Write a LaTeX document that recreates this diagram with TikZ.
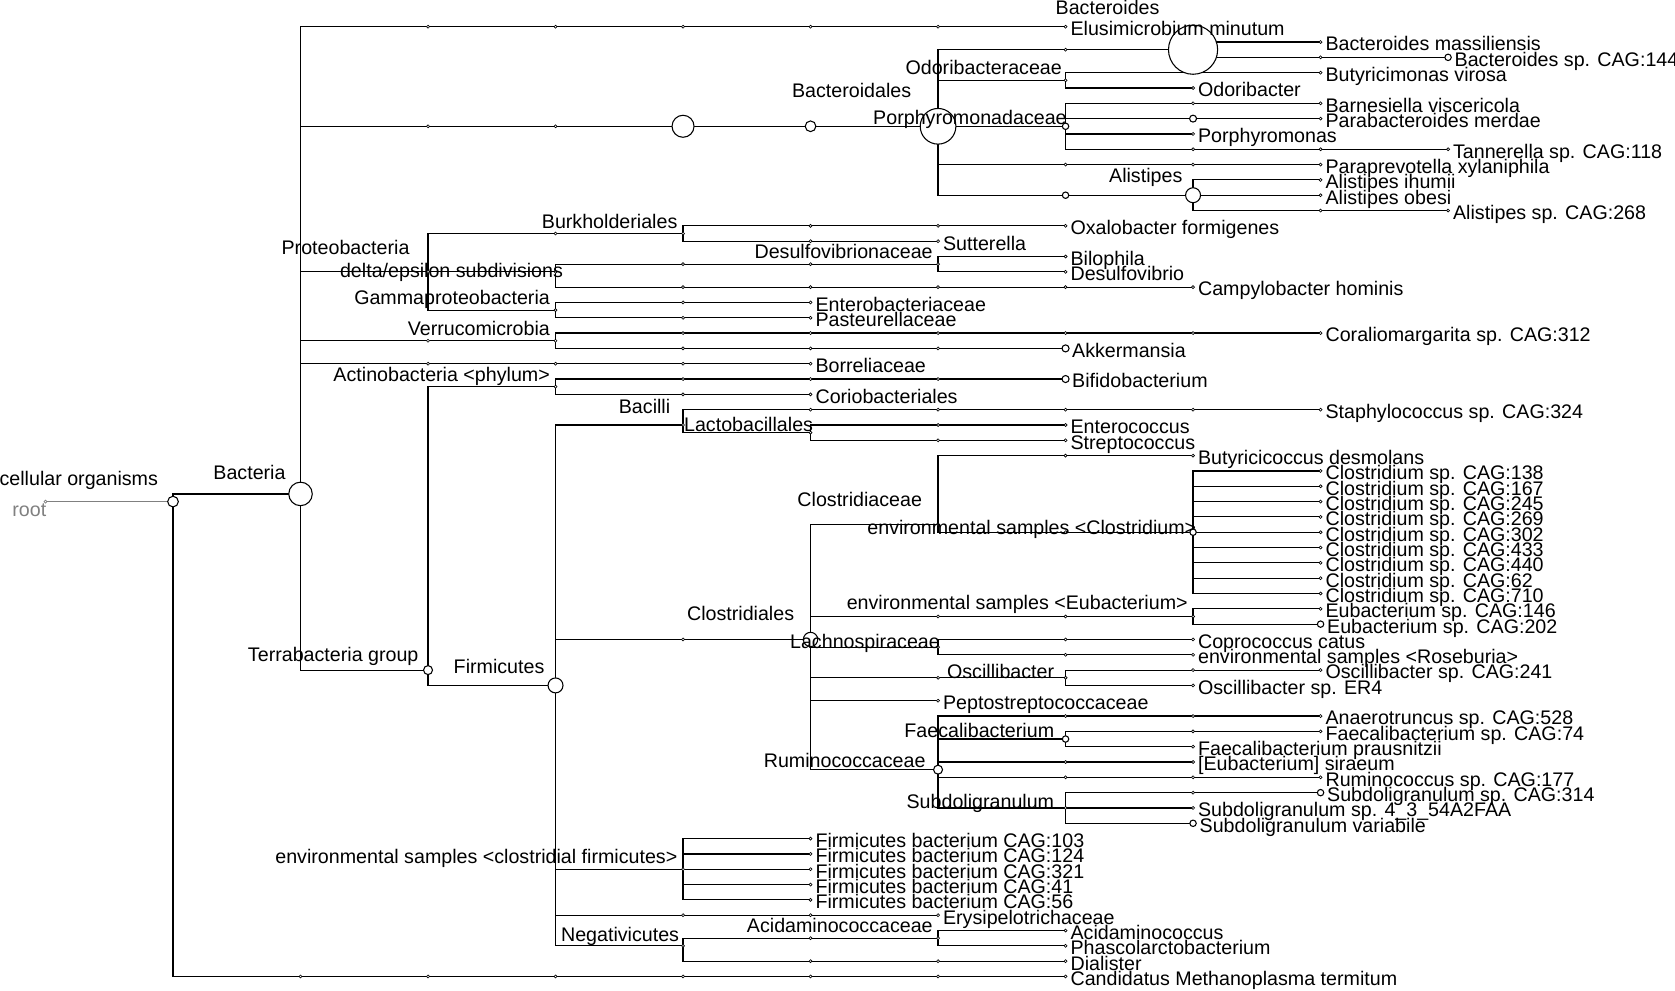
\documentclass[tikz,border=0pt]{standalone}
\usepackage{fontspec}
\setmainfont{Liberation Sans}
\begin{document}
\begin{tikzpicture}[x=1pt,y=-1pt,font=\fontsize{18.4pt}{20pt}\selectfont,
 edge/.style={line width=1.1pt},
 dotm/.style={circle,draw,fill=white,inner sep=0pt,minimum size=2.8pt,line width=0.6pt},
 circm/.style={circle,draw,fill=white,inner sep=0pt,line width=1pt,minimum size=#1},
 leaflab/.style={anchor=base west,inner sep=0pt,xshift=4.5pt,yshift=-8.3pt},
 cleaflab/.style={anchor=base west,inner sep=0pt,xshift=6pt,yshift=-8.3pt},
 intlab/.style={anchor=base east,inner sep=0pt}]
\useasboundingbox (0,0) rectangle (1568,927);
% ---------- coordinates ----------
\coordinate (rootg) at (42.6,469.54);
\coordinate (cell) at (161.96,469.54);
\coordinate (bac) at (281.32,462.37);
% Elusimicrobium
\coordinate (e3) at (400.68,25); \coordinate (e4) at (520.04,25); \coordinate (e5) at (639.40,25);
\coordinate (e6) at (758.76,25); \coordinate (e7) at (878.12,25); \coordinate (L1) at (997.48,25);
% Bacteroidetes
\coordinate (b3) at (400.68,118.21); \coordinate (b4) at (520.04,118.21); \coordinate (b5) at (639.40,118.21);
\coordinate (b6) at (758.76,118.21); \coordinate (bdl) at (878.12,118.21);
\coordinate (bd8) at (997.48,46.51); \coordinate (bds) at (1116.84,46.51);
\coordinate (L2) at (1236.20,39.34);
\coordinate (L3a) at (1236.20,53.68); \coordinate (L3) at (1355.56,53.68);
\coordinate (odo) at (997.48,75.19);
\coordinate (L4a) at (1116.84,68.02); \coordinate (L4) at (1236.20,68.02);
\coordinate (L5) at (1116.84,82.36);
\coordinate (por) at (997.48,118.21);
\coordinate (L6a) at (1116.84,96.70); \coordinate (L6) at (1236.20,96.70);
\coordinate (pab) at (1116.84,111.04); \coordinate (L7) at (1236.20,111.04);
\coordinate (L8) at (1116.84,125.38);
\coordinate (L9a) at (1116.84,139.72); \coordinate (L9b) at (1236.20,139.72); \coordinate (L9) at (1355.56,139.72);
\coordinate (L10a) at (997.48,154.06); \coordinate (L10b) at (1116.84,154.06); \coordinate (L10) at (1236.20,154.06);
\coordinate (rik) at (997.48,182.74); \coordinate (ali) at (1116.84,182.74);
\coordinate (L11) at (1236.20,168.40); \coordinate (L12) at (1236.20,182.74);
\coordinate (L13a) at (1236.20,197.08); \coordinate (L13) at (1355.56,197.08);
% Proteobacteria
\coordinate (pro) at (400.68,254.44);
\coordinate (bu4) at (520.04,218.59); \coordinate (bur) at (639.40,218.59);
\coordinate (L14a) at (758.76,211.42); \coordinate (L14b) at (878.12,211.42); \coordinate (L14) at (997.48,211.42);
\coordinate (L15a) at (758.76,225.76); \coordinate (L15) at (878.12,225.76);
\coordinate (del) at (520.04,254.44);
\coordinate (ds5) at (639.40,247.27); \coordinate (ds6) at (758.76,247.27); \coordinate (des) at (878.12,247.27);
\coordinate (L16) at (997.48,240.10); \coordinate (L17) at (997.48,254.44);
\coordinate (L18a) at (639.40,268.78); \coordinate (L18b) at (758.76,268.78); \coordinate (L18c) at (878.12,268.78);
\coordinate (L18d) at (997.48,268.78); \coordinate (L18) at (1116.84,268.78);
\coordinate (gam) at (520.04,290.29);
\coordinate (L19a) at (639.40,283.12); \coordinate (L19) at (758.76,283.12);
\coordinate (L20a) at (639.40,297.46); \coordinate (L20) at (758.76,297.46);
% Verrucomicrobia
\coordinate (ve3) at (400.68,318.97); \coordinate (ver) at (520.04,318.97);
\coordinate (L21a) at (639.40,311.80); \coordinate (L21b) at (758.76,311.80); \coordinate (L21c) at (878.12,311.80);
\coordinate (L21d) at (997.48,311.80); \coordinate (L21e) at (1116.84,311.80); \coordinate (L21) at (1236.20,311.80);
\coordinate (L22a) at (639.40,326.14); \coordinate (L22b) at (758.76,326.14); \coordinate (L22c) at (878.12,326.14);
\coordinate (L22) at (997.48,326.14);
% Spirochaetes
\coordinate (L23a) at (400.68,340.48); \coordinate (L23b) at (520.04,340.48); \coordinate (L23c) at (639.40,340.48);
\coordinate (L23) at (758.76,340.48);
% Terrabacteria
\coordinate (ter) at (400.68,627.28);
\coordinate (act) at (520.04,361.99);
\coordinate (L24a) at (639.40,354.82); \coordinate (L24b) at (758.76,354.82); \coordinate (L24c) at (878.12,354.82);
\coordinate (L24) at (997.48,354.82);
\coordinate (L25a) at (639.40,369.16); \coordinate (L25) at (758.76,369.16);
\coordinate (fir) at (520.04,641.62);
\coordinate (bcl) at (639.40,397.84);
\coordinate (L26a) at (758.76,383.50); \coordinate (L26b) at (878.12,383.50); \coordinate (L26c) at (997.48,383.50);
\coordinate (L26d) at (1116.84,383.50); \coordinate (L26) at (1236.20,383.50);
\coordinate (lac) at (758.76,405.01);
\coordinate (L27a) at (878.12,397.84); \coordinate (L27) at (997.48,397.84);
\coordinate (L28a) at (878.12,412.18); \coordinate (L28) at (997.48,412.18);
% Clostridia
\coordinate (cla) at (639.40,598.60); \coordinate (clo) at (758.76,598.60);
\coordinate (cde) at (878.12,491.05);
\coordinate (L29a) at (997.48,426.52); \coordinate (L29) at (1116.84,426.52);
\coordinate (ec8) at (997.48,498.22); \coordinate (ecl) at (1116.84,498.22);
\coordinate (L30) at (1236.20,440.86); \coordinate (L31) at (1236.20,455.20); \coordinate (L32) at (1236.20,469.54);
\coordinate (L33) at (1236.20,483.88); \coordinate (L34) at (1236.20,498.22); \coordinate (L35) at (1236.20,512.56);
\coordinate (L36) at (1236.20,526.90); \coordinate (L37) at (1236.20,541.24); \coordinate (L38) at (1236.20,555.58);
\coordinate (eu7) at (878.12,577.09); \coordinate (eu8) at (997.48,577.09); \coordinate (eeu) at (1116.84,577.09);
\coordinate (L39) at (1236.20,569.92); \coordinate (L40) at (1236.20,584.26);
\coordinate (lch) at (878.12,605.77);
\coordinate (L41a) at (997.48,598.60); \coordinate (L41) at (1116.84,598.60);
\coordinate (L42a) at (997.48,612.94); \coordinate (L42) at (1116.84,612.94);
\coordinate (os7) at (878.12,634.45); \coordinate (osc) at (997.48,634.45);
\coordinate (L43a) at (1116.84,627.28); \coordinate (L43) at (1236.20,627.28);
\coordinate (L44) at (1116.84,641.62);
\coordinate (L45) at (878.12,655.96);
\coordinate (rum) at (878.12,720.49);
\coordinate (L46a) at (997.48,670.30); \coordinate (L46b) at (1116.84,670.30); \coordinate (L46) at (1236.20,670.30);
\coordinate (fae) at (997.48,691.81);
\coordinate (L47a) at (1116.84,684.64); \coordinate (L47) at (1236.20,684.64);
\coordinate (L48) at (1116.84,698.98);
\coordinate (L49a) at (997.48,713.32); \coordinate (L49) at (1116.84,713.32);
\coordinate (L50a) at (997.48,727.66); \coordinate (L50b) at (1116.84,727.66); \coordinate (L50) at (1236.20,727.66);
\coordinate (sub) at (997.48,756.34);
\coordinate (L51a) at (1116.84,742.00); \coordinate (L51) at (1236.20,742.00);
\coordinate (L52) at (1116.84,756.34);
\coordinate (L53) at (1116.84,770.68);
\coordinate (ecf) at (639.40,813.70);
\coordinate (L54) at (758.76,785.02); \coordinate (L55) at (758.76,799.36); \coordinate (L56) at (758.76,813.70);
\coordinate (L57) at (758.76,828.04); \coordinate (L58) at (758.76,842.38);
\coordinate (L59a) at (639.40,856.72); \coordinate (L59b) at (758.76,856.72); \coordinate (L59) at (878.12,856.72);
\coordinate (neg) at (639.40,885.40);
\coordinate (ac6) at (758.76,878.23); \coordinate (aci) at (878.12,878.23);
\coordinate (L60) at (997.48,871.06); \coordinate (L61) at (997.48,885.40);
\coordinate (L62a) at (758.76,899.74); \coordinate (L62b) at (878.12,899.74); \coordinate (L62) at (997.48,899.74);
\coordinate (L63a) at (281.32,914.08); \coordinate (L63b) at (400.68,914.08); \coordinate (L63c) at (520.04,914.08);
\coordinate (L63d) at (639.40,914.08); \coordinate (L63e) at (758.76,914.08); \coordinate (L63f) at (878.12,914.08);
\coordinate (L63) at (997.48,914.08);
% ---------- edges ----------
\draw[gray,line width=1.1pt] (rootg) -- (cell);
\draw[edge]
 (cell) |- (bac) (cell) |- (L63a)
 (L63a) -- (L63b) -- (L63c) -- (L63d) -- (L63e) -- (L63f) -- (L63)
 (bac) |- (e3) (bac) |- (b3) (bac) |- (pro) (bac) |- (ve3) (bac) |- (L23a) (bac) |- (ter)
 (e3) -- (e4) -- (e5) -- (e6) -- (e7) -- (L1)
 (b3) -- (b4) -- (b5) -- (b6) -- (bdl)
 (bdl) |- (bd8) (bdl) |- (odo) (bdl) |- (por) (bdl) |- (L10a) (bdl) |- (rik)
 (bd8) -- (bds) (bds) |- (L2) (bds) |- (L3a) (L3a) -- (L3)
 (odo) |- (L4a) (odo) |- (L5) (L4a) -- (L4)
 (por) |- (L6a) (por) |- (pab) (por) |- (L8) (por) |- (L9a)
 (L6a) -- (L6) (pab) -- (L7) (L9a) -- (L9b) -- (L9)
 (L10a) -- (L10b) -- (L10)
 (rik) -- (ali) (ali) |- (L11) (ali) |- (L12) (ali) |- (L13a) (L13a) -- (L13)
 (pro) |- (bu4) (pro) |- (del) (pro) |- (gam)
 (bu4) -- (bur) (bur) |- (L14a) (bur) |- (L15a)
 (L14a) -- (L14b) -- (L14) (L15a) -- (L15)
 (del) |- (ds5) (del) |- (L18a)
 (ds5) -- (ds6) -- (des) (des) |- (L16) (des) |- (L17)
 (L18a) -- (L18b) -- (L18c) -- (L18d) -- (L18)
 (gam) |- (L19a) (gam) |- (L20a) (L19a) -- (L19) (L20a) -- (L20)
 (ve3) -- (ver) (ver) |- (L21a) (ver) |- (L22a)
 (L21a) -- (L21b) -- (L21c) -- (L21d) -- (L21e) -- (L21)
 (L22a) -- (L22b) -- (L22c) -- (L22)
 (L23a) -- (L23b) -- (L23c) -- (L23)
 (ter) |- (act) (ter) |- (fir)
 (act) |- (L24a) (act) |- (L25a)
 (L24a) -- (L24b) -- (L24c) -- (L24) (L25a) -- (L25)
 (fir) |- (bcl) (fir) |- (cla) (fir) |- (ecf) (fir) |- (L59a) (fir) |- (neg)
 (bcl) |- (L26a) (bcl) |- (lac)
 (L26a) -- (L26b) -- (L26c) -- (L26d) -- (L26)
 (lac) |- (L27a) (lac) |- (L28a) (L27a) -- (L27) (L28a) -- (L28)
 (cla) -- (clo)
 (clo) |- (cde) (clo) |- (eu7) (clo) |- (lch) (clo) |- (os7) (clo) |- (L45) (clo) |- (rum)
 (cde) |- (L29a) (cde) |- (ec8) (L29a) -- (L29) (ec8) -- (ecl)
 (ecl) |- (L30) (ecl) |- (L31) (ecl) |- (L32) (ecl) |- (L33) (ecl) |- (L34)
 (ecl) |- (L35) (ecl) |- (L36) (ecl) |- (L37) (ecl) |- (L38)
 (eu7) -- (eu8) -- (eeu) (eeu) |- (L39) (eeu) |- (L40)
 (lch) |- (L41a) (lch) |- (L42a) (L41a) -- (L41) (L42a) -- (L42)
 (os7) -- (osc) (osc) |- (L43a) (osc) |- (L44) (L43a) -- (L43)
 (rum) |- (L46a) (rum) |- (fae) (rum) |- (L49a) (rum) |- (L50a) (rum) |- (sub)
 (L46a) -- (L46b) -- (L46)
 (fae) |- (L47a) (fae) |- (L48) (L47a) -- (L47)
 (L49a) -- (L49) (L50a) -- (L50b) -- (L50)
 (sub) |- (L51a) (sub) |- (L52) (sub) |- (L53) (L51a) -- (L51)
 (ecf) |- (L54) (ecf) |- (L55) (ecf) |- (L56) (ecf) |- (L57) (ecf) |- (L58)
 (L59a) -- (L59b) -- (L59)
 (neg) |- (ac6) (neg) |- (L62a) (ac6) -- (aci) (aci) |- (L60) (aci) |- (L61)
 (L62a) -- (L62b) -- (L62);
% ---------- small dots ----------
\node[dotm,draw=gray] (d-rootg) at (rootg) {};
\foreach \n in {e3,e4,e5,e6,e7,L1,b3,b4,bd8,L2,L3a,odo,L4a,L4,L5,L6a,L6,L7,L8,L9a,L9b,L9,
 L10a,L10b,L10,L11,L12,L13a,L13,pro,bu4,bur,L14a,L14b,L14,L15a,L15,del,ds5,ds6,des,L16,L17,
 L18a,L18b,L18c,L18d,L18,gam,L19a,L19,L20a,L20,ve3,ver,L21a,L21b,L21c,L21d,L21e,L21,L22a,L22b,L22c,
 L23a,L23b,L23c,L23,act,L24a,L24b,L24c,L25a,L25,bcl,L26a,L26b,L26c,L26d,L26,lac,L27a,L27,L28a,L28,
 cla,cde,L29a,L29,ec8,L30,L31,L32,L33,L34,L35,L36,L37,L38,eu7,eu8,eeu,L39,lch,L41a,L41,L42a,L42,
 os7,osc,L43a,L43,L44,L45,L46a,L46b,L46,L47a,L47,L48,L49a,L49,L50a,L50b,L50,sub,L51a,L52,
 ecf,L54,L55,L56,L57,L58,L59a,L59b,L59,neg,ac6,aci,L60,L61,L62a,L62b,L62,
 L63a,L63b,L63c,L63d,L63e,L63f,L63}
 {\node[dotm] (d-\n) at (\n) {};}
% ---------- circles ----------
\node[circm=10pt] (m-cell) at (cell) {};
\node[circm=22pt] (m-bac) at (bac) {};
\node[circm=20.6pt] (m-b5) at (b5) {};
\node[circm=10pt] (m-b6) at (b6) {};
\node[circm=33.4pt] (m-bdl) at (bdl) {};
\node[circm=46pt] (m-bds) at (bds) {};
\node[circm=6pt] (m-por) at (por) {};
\node[circm=6.5pt] (m-pab) at (pab) {};
\node[circm=6pt] (m-rik) at (rik) {};
\node[circm=14pt] (m-ali) at (ali) {};
\node[circm=6pt] (m-L3) at (L3) {};
\node[circm=6.6pt] (m-L22) at (L22) {};
\node[circm=6.6pt] (m-L24) at (L24) {};
\node[circm=8.4pt] (m-ter) at (ter) {};
\node[circm=14pt] (m-fir) at (fir) {};
\node[circm=13.4pt] (m-clo) at (clo) {};
\node[circm=6pt] (m-ecl) at (ecl) {};
\node[circm=6pt] (m-L40) at (L40) {};
\node[circm=8.4pt] (m-rum) at (rum) {};
\node[circm=6pt] (m-fae) at (fae) {};
\node[circm=6pt] (m-L51) at (L51) {};
\node[circm=6pt] (m-L53) at (L53) {};
% ---------- internal labels ----------
\node[intlab,text=gray] (t-root) at (43.5,483.7) {root};
\node[intlab] (t-cell) at (148.1,454.7) {cellular organisms};
\node[intlab] (t-bac) at (267.5,448.7) {Bacteria};
\node[intlab] (t-bds) at (1085.6,14) {Bacteroides};
\node[intlab] (t-odo) at (994.2,70.2) {Odoribacteraceae};
\node[intlab] (t-bdl) at (853.2,91.1) {Bacteroidales};
\node[intlab] (t-por) at (998.7,117) {Porphyromonadaceae};
\node[intlab] (t-ali) at (1107,171) {Alistipes};
\node[intlab] (t-pro) at (383.5,237.8) {Proteobacteria};
\node[intlab] (t-bur) at (634.3,213.7) {Burkholderiales};
\node[intlab] (t-des) at (873.3,241.8) {Desulfovibrionaceae};
\node[intlab] (t-del) at (527.2,260) {delta/epsilon subdivisions};
\node[intlab] (t-gam) at (514.9,285.5) {Gammaproteobacteria};
\node[intlab] (t-ver) at (514.9,313.6) {Verrucomicrobia};
\node[intlab] (t-act) at (514.9,357.3) {Actinobacteria <phylum>};
\node[intlab] (t-bcl) at (627.6,386.9) {Bacilli};
\node[intlab] (t-lac) at (761.3,404.1) {Lactobacillales};
\node[intlab] (t-cde) at (863.3,474.3) {Clostridiaceae};
\node[intlab] (t-ecl) at (1120,500.8) {environmental samples <Clostridium>};
\node[intlab] (t-eeu) at (1112,571) {environmental samples <Eubacterium>};
\node[intlab] (t-clo) at (743.6,581.3) {Clostridiales};
\node[intlab] (t-lch) at (880,606.9) {Lachnospiraceae};
\node[intlab] (t-ter) at (391.9,619.4) {Terrabacteria group};
\node[intlab] (t-fir) at (509.8,630.3) {Firmicutes};
\node[intlab] (t-osc) at (987,635) {Oscillibacter};
\node[intlab] (t-fae) at (987,690.3) {Faecalibacterium};
\node[intlab] (t-rum) at (866.6,718.3) {Ruminococcaceae};
\node[intlab] (t-sub) at (987,756.7) {Subdoligranulum};
\node[intlab] (t-ecf) at (634.3,808.2) {environmental samples <clostridial firmicutes>};
\node[intlab] (t-neg) at (635.9,881.6) {Negativicutes};
\node[intlab] (t-aci) at (873.3,873.1) {Acidaminococcaceae};
% ---------- leaf labels ----------
\node[leaflab] (t1) at (L1) {Elusimicrobium minutum};
\node[leaflab] (t2) at (L2) {Bacteroides massiliensis};
\node[cleaflab] (t3) at (L3) {Bacteroides sp. CAG:144};
\node[leaflab] (t4) at (L4) {Butyricimonas virosa};
\node[leaflab] (t5) at (L5) {Odoribacter};
\node[leaflab] (t6) at (L6) {Barnesiella viscericola};
\node[leaflab] (t7) at (L7) {Parabacteroides merdae};
\node[leaflab] (t8) at (L8) {Porphyromonas};
\node[leaflab] (t9) at (L9) {Tannerella sp. CAG:118};
\node[leaflab] (t10) at (L10) {Paraprevotella xylaniphila};
\node[leaflab] (t11) at (L11) {Alistipes ihumii};
\node[leaflab] (t12) at (L12) {Alistipes obesi};
\node[leaflab] (t13) at (L13) {Alistipes sp. CAG:268};
\node[leaflab] (t14) at (L14) {Oxalobacter formigenes};
\node[leaflab] (t15) at (L15) {Sutterella};
\node[leaflab] (t16) at (L16) {Bilophila};
\node[leaflab] (t17) at (L17) {Desulfovibrio};
\node[leaflab] (t18) at (L18) {Campylobacter hominis};
\node[leaflab] (t19) at (L19) {Enterobacteriaceae};
\node[leaflab] (t20) at (L20) {Pasteurellaceae};
\node[leaflab] (t21) at (L21) {Coraliomargarita sp. CAG:312};
\node[cleaflab] (t22) at (L22) {Akkermansia};
\node[leaflab] (t23) at (L23) {Borreliaceae};
\node[cleaflab] (t24) at (L24) {Bifidobacterium};
\node[leaflab] (t25) at (L25) {Coriobacteriales};
\node[leaflab] (t26) at (L26) {Staphylococcus sp. CAG:324};
\node[leaflab] (t27) at (L27) {Enterococcus};
\node[leaflab] (t28) at (L28) {Streptococcus};
\node[leaflab] (t29) at (L29) {Butyricicoccus desmolans};
\node[leaflab] (t30) at (L30) {Clostridium sp. CAG:138};
\node[leaflab] (t31) at (L31) {Clostridium sp. CAG:167};
\node[leaflab] (t32) at (L32) {Clostridium sp. CAG:245};
\node[leaflab] (t33) at (L33) {Clostridium sp. CAG:269};
\node[leaflab] (t34) at (L34) {Clostridium sp. CAG:302};
\node[leaflab] (t35) at (L35) {Clostridium sp. CAG:433};
\node[leaflab] (t36) at (L36) {Clostridium sp. CAG:440};
\node[leaflab] (t37) at (L37) {Clostridium sp. CAG:62};
\node[leaflab] (t38) at (L38) {Clostridium sp. CAG:710};
\node[leaflab] (t39) at (L39) {Eubacterium sp. CAG:146};
\node[cleaflab] (t40) at (L40) {Eubacterium sp. CAG:202};
\node[leaflab] (t41) at (L41) {Coprococcus catus};
\node[leaflab] (t42) at (L42) {environmental samples <Roseburia>};
\node[leaflab] (t43) at (L43) {Oscillibacter sp. CAG:241};
\node[leaflab] (t44) at (L44) {Oscillibacter sp. ER4};
\node[leaflab] (t45) at (L45) {Peptostreptococcaceae};
\node[leaflab] (t46) at (L46) {Anaerotruncus sp. CAG:528};
\node[leaflab] (t47) at (L47) {Faecalibacterium sp. CAG:74};
\node[leaflab] (t48) at (L48) {Faecalibacterium prausnitzii};
\node[leaflab] (t49) at (L49) {[Eubacterium] siraeum};
\node[leaflab] (t50) at (L50) {Ruminococcus sp. CAG:177};
\node[cleaflab] (t51) at (L51) {Subdoligranulum sp. CAG:314};
\node[leaflab] (t52) at (L52) {Subdoligranulum sp. 4\_3\_54A2FAA};
\node[cleaflab] (t53) at (L53) {Subdoligranulum variabile};
\node[leaflab] (t54) at (L54) {Firmicutes bacterium CAG:103};
\node[leaflab] (t55) at (L55) {Firmicutes bacterium CAG:124};
\node[leaflab] (t56) at (L56) {Firmicutes bacterium CAG:321};
\node[leaflab] (t57) at (L57) {Firmicutes bacterium CAG:41};
\node[leaflab] (t58) at (L58) {Firmicutes bacterium CAG:56};
\node[leaflab] (t59) at (L59) {Erysipelotrichaceae};
\node[leaflab] (t60) at (L60) {Acidaminococcus};
\node[leaflab] (t61) at (L61) {Phascolarctobacterium};
\node[leaflab] (t62) at (L62) {Dialister};
\node[leaflab] (t63) at (L63) {Candidatus Methanoplasma termitum};
\end{tikzpicture}
\end{document}
